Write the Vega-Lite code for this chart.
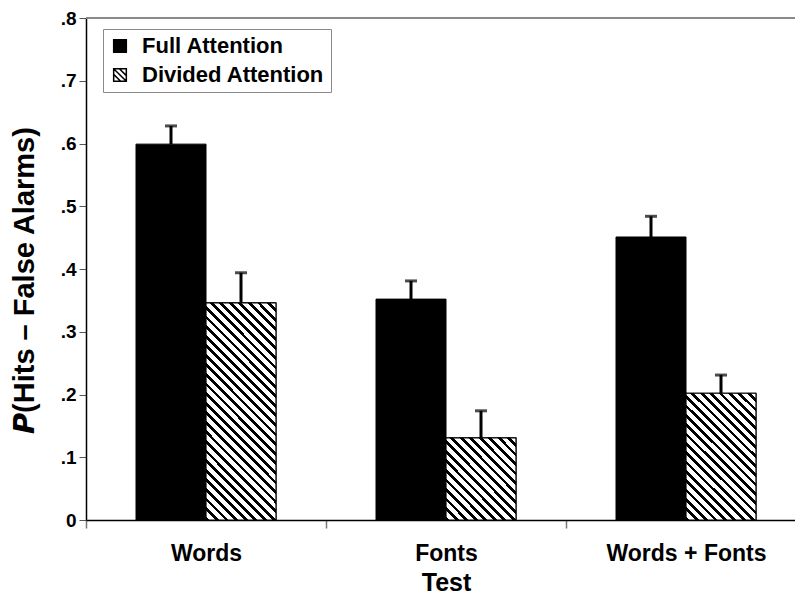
{
  "$schema": "https://vega.github.io/schema/vega-lite/v6.json",
  "autosize": {"type": "none"},
  "width": 709,
  "height": 502,
  "padding": {"left": 86, "top": 18, "right": 0, "bottom": 76},
  "background": "white",
  "config": {
    "font": "Liberation Sans",
    "view": {"stroke": null},
    "axis": {"labelFontWeight": "bold", "titleFontWeight": "bold", "labelColor": "black", "titleColor": "black", "grid": false, "domainColor": "black", "domainWidth": 1.5}
  },
  "data": {
    "values": [
      {"test": "Words", "cond": "Full Attention", "value": 0.599, "upper": 0.628},
      {"test": "Words", "cond": "Divided Attention", "value": 0.346, "upper": 0.394},
      {"test": "Fonts", "cond": "Full Attention", "value": 0.352, "upper": 0.381},
      {"test": "Fonts", "cond": "Divided Attention", "value": 0.131, "upper": 0.174},
      {"test": "Words + Fonts", "cond": "Full Attention", "value": 0.451, "upper": 0.484},
      {"test": "Words + Fonts", "cond": "Divided Attention", "value": 0.202, "upper": 0.231}
    ]
  },
  "encoding": {
    "x": {
      "field": "test", "type": "nominal", "sort": ["Words", "Fonts", "Words + Fonts"],
      "scale": {"range": [0, 720], "paddingInner": 0, "paddingOuter": 0},
      "title": "Test",
      "axis": {"labelAngle": 0, "labelFontSize": 23, "labelPadding": 14, "titleFontSize": 25, "titlePadding": 5, "tickBand": "extent", "tickSize": 8, "tickColor": "#777", "tickWidth": 1.5}
    },
    "xOffset": {
      "field": "cond", "type": "nominal",
      "scale": {"domain": ["Full Attention", "Divided Attention"], "paddingInner": 0, "paddingOuter": 0.7143}
    }
  },
  "layer": [
    {
      "mark": {"type": "rule", "color": "#8a8a8a", "strokeWidth": 1.5},
      "encoding": {"x": null, "xOffset": null, "y": {"datum": 0.8, "type": "quantitative"}}
    },
    {
      "mark": {"type": "bar", "stroke": "black", "strokeWidth": 1},
      "encoding": {
        "y": {
          "field": "value", "type": "quantitative",
          "scale": {"domain": [0, 0.8], "nice": false, "zero": true},
          "title": "𝙋(Hits – False Alarms)",
          "axis": {
            "values": [0, 0.1, 0.2, 0.3, 0.4, 0.5, 0.6, 0.7, 0.8],
            "labelExpr": "datum.value == 0 ? '0' : replace(format(datum.value, '.1f'), '0.', '.')",
            "labelFontSize": 19, "labelPadding": 3, "tickSize": 7, "tickColor": "#555", "tickWidth": 1,
            "titleFontSize": 29, "titleAngle": -90, "titleX": -62, "titleY": 262, "titleAlign": "center", "titleBaseline": "middle"
          }
        },
        "fill": {
          "field": "cond", "type": "nominal",
          "scale": {"domain": ["Full Attention", "Divided Attention"], "range": ["#000000", "#ffffff"]},
          "legend": {
            "title": null, "orient": "none", "legendX": 17, "legendY": 11,
            "symbolType": "M-1,-1H1V1H-1Z M-1,-0.1L0.1,1 M-1,-1L1,1 M-0.1,-1L1,0.1",
            "symbolSize": 160, "symbolStrokeColor": "black", "symbolStrokeWidth": 1.5,
            "labelFontSize": 22, "labelFontWeight": "bold", "labelColor": "black", "labelOffset": 11, "labelLimit": 300,
            "rowPadding": 7, "padding": 6, "strokeColor": "#8a8a8a", "fillColor": "white"
          }
        }
      }
    },
    {
      "transform": [{"filter": "datum.test == 'Words' && datum.cond == 'Divided Attention'"}],
      "mark": {"type": "bar", "stroke": "black", "strokeWidth": 1.2, "fill": {"gradient": "linear", "x1": 0, "y1": 1, "x2": 0.3874, "y2": -0.1981, "stops": [
        {"offset": 0, "color": "#000"}, {"offset": 0.0133, "color": "#000"}, {"offset": 0.0133, "color": "#fff"}, {"offset": 0.0333, "color": "#fff"},
        {"offset": 0.0333, "color": "#000"}, {"offset": 0.0467, "color": "#000"}, {"offset": 0.0467, "color": "#fff"}, {"offset": 0.0667, "color": "#fff"},
        {"offset": 0.0667, "color": "#000"}, {"offset": 0.08, "color": "#000"}, {"offset": 0.08, "color": "#fff"}, {"offset": 0.1, "color": "#fff"},
        {"offset": 0.1, "color": "#000"}, {"offset": 0.1133, "color": "#000"}, {"offset": 0.1133, "color": "#fff"}, {"offset": 0.1333, "color": "#fff"},
        {"offset": 0.1333, "color": "#000"}, {"offset": 0.1467, "color": "#000"}, {"offset": 0.1467, "color": "#fff"}, {"offset": 0.1667, "color": "#fff"},
        {"offset": 0.1667, "color": "#000"}, {"offset": 0.18, "color": "#000"}, {"offset": 0.18, "color": "#fff"}, {"offset": 0.2, "color": "#fff"},
        {"offset": 0.2, "color": "#000"}, {"offset": 0.2133, "color": "#000"}, {"offset": 0.2133, "color": "#fff"}, {"offset": 0.2333, "color": "#fff"},
        {"offset": 0.2333, "color": "#000"}, {"offset": 0.2467, "color": "#000"}, {"offset": 0.2467, "color": "#fff"}, {"offset": 0.2667, "color": "#fff"},
        {"offset": 0.2667, "color": "#000"}, {"offset": 0.28, "color": "#000"}, {"offset": 0.28, "color": "#fff"}, {"offset": 0.3, "color": "#fff"},
        {"offset": 0.3, "color": "#000"}, {"offset": 0.3133, "color": "#000"}, {"offset": 0.3133, "color": "#fff"}, {"offset": 0.3333, "color": "#fff"},
        {"offset": 0.3333, "color": "#000"}, {"offset": 0.3467, "color": "#000"}, {"offset": 0.3467, "color": "#fff"}, {"offset": 0.3667, "color": "#fff"},
        {"offset": 0.3667, "color": "#000"}, {"offset": 0.38, "color": "#000"}, {"offset": 0.38, "color": "#fff"}, {"offset": 0.4, "color": "#fff"},
        {"offset": 0.4, "color": "#000"}, {"offset": 0.4133, "color": "#000"}, {"offset": 0.4133, "color": "#fff"}, {"offset": 0.4333, "color": "#fff"},
        {"offset": 0.4333, "color": "#000"}, {"offset": 0.4467, "color": "#000"}, {"offset": 0.4467, "color": "#fff"}, {"offset": 0.4667, "color": "#fff"},
        {"offset": 0.4667, "color": "#000"}, {"offset": 0.48, "color": "#000"}, {"offset": 0.48, "color": "#fff"}, {"offset": 0.5, "color": "#fff"},
        {"offset": 0.5, "color": "#000"}, {"offset": 0.5133, "color": "#000"}, {"offset": 0.5133, "color": "#fff"}, {"offset": 0.5333, "color": "#fff"},
        {"offset": 0.5333, "color": "#000"}, {"offset": 0.5467, "color": "#000"}, {"offset": 0.5467, "color": "#fff"}, {"offset": 0.5667, "color": "#fff"},
        {"offset": 0.5667, "color": "#000"}, {"offset": 0.58, "color": "#000"}, {"offset": 0.58, "color": "#fff"}, {"offset": 0.6, "color": "#fff"},
        {"offset": 0.6, "color": "#000"}, {"offset": 0.6133, "color": "#000"}, {"offset": 0.6133, "color": "#fff"}, {"offset": 0.6333, "color": "#fff"},
        {"offset": 0.6333, "color": "#000"}, {"offset": 0.6467, "color": "#000"}, {"offset": 0.6467, "color": "#fff"}, {"offset": 0.6667, "color": "#fff"},
        {"offset": 0.6667, "color": "#000"}, {"offset": 0.68, "color": "#000"}, {"offset": 0.68, "color": "#fff"}, {"offset": 0.7, "color": "#fff"},
        {"offset": 0.7, "color": "#000"}, {"offset": 0.7133, "color": "#000"}, {"offset": 0.7133, "color": "#fff"}, {"offset": 0.7333, "color": "#fff"},
        {"offset": 0.7333, "color": "#000"}, {"offset": 0.7467, "color": "#000"}, {"offset": 0.7467, "color": "#fff"}, {"offset": 0.7667, "color": "#fff"},
        {"offset": 0.7667, "color": "#000"}, {"offset": 0.78, "color": "#000"}, {"offset": 0.78, "color": "#fff"}, {"offset": 0.8, "color": "#fff"},
        {"offset": 0.8, "color": "#000"}, {"offset": 0.8133, "color": "#000"}, {"offset": 0.8133, "color": "#fff"}, {"offset": 0.8333, "color": "#fff"},
        {"offset": 0.8333, "color": "#000"}, {"offset": 0.8467, "color": "#000"}, {"offset": 0.8467, "color": "#fff"}, {"offset": 0.8667, "color": "#fff"},
        {"offset": 0.8667, "color": "#000"}, {"offset": 0.88, "color": "#000"}, {"offset": 0.88, "color": "#fff"}, {"offset": 0.9, "color": "#fff"},
        {"offset": 0.9, "color": "#000"}, {"offset": 0.9133, "color": "#000"}, {"offset": 0.9133, "color": "#fff"}, {"offset": 0.9333, "color": "#fff"},
        {"offset": 0.9333, "color": "#000"}, {"offset": 0.9467, "color": "#000"}, {"offset": 0.9467, "color": "#fff"}, {"offset": 0.9667, "color": "#fff"},
        {"offset": 0.9667, "color": "#000"}, {"offset": 0.98, "color": "#000"}, {"offset": 0.98, "color": "#fff"}, {"offset": 1, "color": "#fff"}
      ]}},
      "encoding": {"y": {"field": "value", "type": "quantitative"}}
    },
    {
      "transform": [{"filter": "datum.test == 'Fonts' && datum.cond == 'Divided Attention'"}],
      "mark": {"type": "bar", "stroke": "black", "strokeWidth": 1.2, "fill": {"gradient": "linear", "x1": 0, "y1": 1, "x2": 0.9181, "y2": -0.0702, "stops": [
        {"offset": 0, "color": "#000"}, {"offset": 0.025, "color": "#000"}, {"offset": 0.025, "color": "#fff"}, {"offset": 0.0625, "color": "#fff"},
        {"offset": 0.0625, "color": "#000"}, {"offset": 0.0875, "color": "#000"}, {"offset": 0.0875, "color": "#fff"}, {"offset": 0.125, "color": "#fff"},
        {"offset": 0.125, "color": "#000"}, {"offset": 0.15, "color": "#000"}, {"offset": 0.15, "color": "#fff"}, {"offset": 0.1875, "color": "#fff"},
        {"offset": 0.1875, "color": "#000"}, {"offset": 0.2125, "color": "#000"}, {"offset": 0.2125, "color": "#fff"}, {"offset": 0.25, "color": "#fff"},
        {"offset": 0.25, "color": "#000"}, {"offset": 0.275, "color": "#000"}, {"offset": 0.275, "color": "#fff"}, {"offset": 0.3125, "color": "#fff"},
        {"offset": 0.3125, "color": "#000"}, {"offset": 0.3375, "color": "#000"}, {"offset": 0.3375, "color": "#fff"}, {"offset": 0.375, "color": "#fff"},
        {"offset": 0.375, "color": "#000"}, {"offset": 0.4, "color": "#000"}, {"offset": 0.4, "color": "#fff"}, {"offset": 0.4375, "color": "#fff"},
        {"offset": 0.4375, "color": "#000"}, {"offset": 0.4625, "color": "#000"}, {"offset": 0.4625, "color": "#fff"}, {"offset": 0.5, "color": "#fff"},
        {"offset": 0.5, "color": "#000"}, {"offset": 0.525, "color": "#000"}, {"offset": 0.525, "color": "#fff"}, {"offset": 0.5625, "color": "#fff"},
        {"offset": 0.5625, "color": "#000"}, {"offset": 0.5875, "color": "#000"}, {"offset": 0.5875, "color": "#fff"}, {"offset": 0.625, "color": "#fff"},
        {"offset": 0.625, "color": "#000"}, {"offset": 0.65, "color": "#000"}, {"offset": 0.65, "color": "#fff"}, {"offset": 0.6875, "color": "#fff"},
        {"offset": 0.6875, "color": "#000"}, {"offset": 0.7125, "color": "#000"}, {"offset": 0.7125, "color": "#fff"}, {"offset": 0.75, "color": "#fff"},
        {"offset": 0.75, "color": "#000"}, {"offset": 0.775, "color": "#000"}, {"offset": 0.775, "color": "#fff"}, {"offset": 0.8125, "color": "#fff"},
        {"offset": 0.8125, "color": "#000"}, {"offset": 0.8375, "color": "#000"}, {"offset": 0.8375, "color": "#fff"}, {"offset": 0.875, "color": "#fff"},
        {"offset": 0.875, "color": "#000"}, {"offset": 0.9, "color": "#000"}, {"offset": 0.9, "color": "#fff"}, {"offset": 0.9375, "color": "#fff"},
        {"offset": 0.9375, "color": "#000"}, {"offset": 0.9625, "color": "#000"}, {"offset": 0.9625, "color": "#fff"}, {"offset": 1, "color": "#fff"}
      ]}},
      "encoding": {"y": {"field": "value", "type": "quantitative"}}
    },
    {
      "transform": [{"filter": "datum.test == 'Words + Fonts' && datum.cond == 'Divided Attention'"}],
      "mark": {"type": "bar", "stroke": "black", "strokeWidth": 1.2, "fill": {"gradient": "linear", "x1": 0, "y1": 1, "x2": 0.6539, "y2": -0.1901, "stops": [
        {"offset": 0, "color": "#000"}, {"offset": 0.019, "color": "#000"}, {"offset": 0.019, "color": "#fff"}, {"offset": 0.0476, "color": "#fff"},
        {"offset": 0.0476, "color": "#000"}, {"offset": 0.0667, "color": "#000"}, {"offset": 0.0667, "color": "#fff"}, {"offset": 0.0952, "color": "#fff"},
        {"offset": 0.0952, "color": "#000"}, {"offset": 0.1143, "color": "#000"}, {"offset": 0.1143, "color": "#fff"}, {"offset": 0.1429, "color": "#fff"},
        {"offset": 0.1429, "color": "#000"}, {"offset": 0.1619, "color": "#000"}, {"offset": 0.1619, "color": "#fff"}, {"offset": 0.1905, "color": "#fff"},
        {"offset": 0.1905, "color": "#000"}, {"offset": 0.2095, "color": "#000"}, {"offset": 0.2095, "color": "#fff"}, {"offset": 0.2381, "color": "#fff"},
        {"offset": 0.2381, "color": "#000"}, {"offset": 0.2571, "color": "#000"}, {"offset": 0.2571, "color": "#fff"}, {"offset": 0.2857, "color": "#fff"},
        {"offset": 0.2857, "color": "#000"}, {"offset": 0.3048, "color": "#000"}, {"offset": 0.3048, "color": "#fff"}, {"offset": 0.3333, "color": "#fff"},
        {"offset": 0.3333, "color": "#000"}, {"offset": 0.3524, "color": "#000"}, {"offset": 0.3524, "color": "#fff"}, {"offset": 0.381, "color": "#fff"},
        {"offset": 0.381, "color": "#000"}, {"offset": 0.4, "color": "#000"}, {"offset": 0.4, "color": "#fff"}, {"offset": 0.4286, "color": "#fff"},
        {"offset": 0.4286, "color": "#000"}, {"offset": 0.4476, "color": "#000"}, {"offset": 0.4476, "color": "#fff"}, {"offset": 0.4762, "color": "#fff"},
        {"offset": 0.4762, "color": "#000"}, {"offset": 0.4952, "color": "#000"}, {"offset": 0.4952, "color": "#fff"}, {"offset": 0.5238, "color": "#fff"},
        {"offset": 0.5238, "color": "#000"}, {"offset": 0.5429, "color": "#000"}, {"offset": 0.5429, "color": "#fff"}, {"offset": 0.5714, "color": "#fff"},
        {"offset": 0.5714, "color": "#000"}, {"offset": 0.5905, "color": "#000"}, {"offset": 0.5905, "color": "#fff"}, {"offset": 0.619, "color": "#fff"},
        {"offset": 0.619, "color": "#000"}, {"offset": 0.6381, "color": "#000"}, {"offset": 0.6381, "color": "#fff"}, {"offset": 0.6667, "color": "#fff"},
        {"offset": 0.6667, "color": "#000"}, {"offset": 0.6857, "color": "#000"}, {"offset": 0.6857, "color": "#fff"}, {"offset": 0.7143, "color": "#fff"},
        {"offset": 0.7143, "color": "#000"}, {"offset": 0.7333, "color": "#000"}, {"offset": 0.7333, "color": "#fff"}, {"offset": 0.7619, "color": "#fff"},
        {"offset": 0.7619, "color": "#000"}, {"offset": 0.781, "color": "#000"}, {"offset": 0.781, "color": "#fff"}, {"offset": 0.8095, "color": "#fff"},
        {"offset": 0.8095, "color": "#000"}, {"offset": 0.8286, "color": "#000"}, {"offset": 0.8286, "color": "#fff"}, {"offset": 0.8571, "color": "#fff"},
        {"offset": 0.8571, "color": "#000"}, {"offset": 0.8762, "color": "#000"}, {"offset": 0.8762, "color": "#fff"}, {"offset": 0.9048, "color": "#fff"},
        {"offset": 0.9048, "color": "#000"}, {"offset": 0.9238, "color": "#000"}, {"offset": 0.9238, "color": "#fff"}, {"offset": 0.9524, "color": "#fff"},
        {"offset": 0.9524, "color": "#000"}, {"offset": 0.9714, "color": "#000"}, {"offset": 0.9714, "color": "#fff"}, {"offset": 1, "color": "#fff"}
      ]}},
      "encoding": {"y": {"field": "value", "type": "quantitative"}}
    },
    {
      "mark": {"type": "rule", "color": "black", "strokeWidth": 3},
      "encoding": {
        "y": {"field": "value", "type": "quantitative"},
        "y2": {"field": "upper"}
      }
    },
    {
      "mark": {"type": "tick", "color": "black", "size": 12, "thickness": 3},
      "encoding": {"y": {"field": "upper", "type": "quantitative"}}
    }
  ]
}
